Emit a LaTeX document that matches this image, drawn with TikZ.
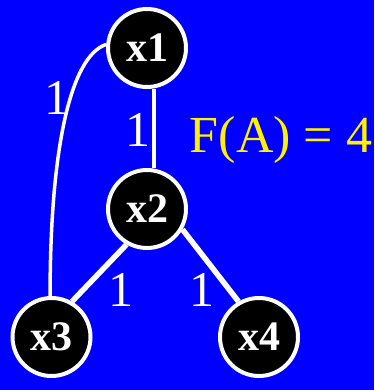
\documentclass[tikz,border=0pt]{standalone}
\usepackage{fontspec}
\setmainfont{Liberation Serif}

\begin{document}
\begin{tikzpicture}[x=1pt,y=-1pt,
    vert/.style={circle,fill=black,draw=white,line width=4pt,minimum size=78pt,inner sep=0pt,
      text=white,font=\fontsize{42}{44}\selectfont\bfseries},
    wt/.style={text=white,inner sep=0pt,font=\fontsize{50}{52}\selectfont},
    thinedge/.style={white,line width=3.5pt},
    thickedge/.style={white,line width=5.5pt}]
    \fill[blue] (0,0) rectangle (374,390);
    \useasboundingbox (0,0) rectangle (374,390);
    % vertices
    \node[vert] (x1) at (147,48) {x1};
    \node[vert] (x2) at (147,209) {x2};
    \node[vert] (x3) at (51.5,337) {x3};
    \node[vert] (x4) at (259,337) {x4};
    % edges
    \draw[thinedge] ([xshift=7pt]x1.south) -- ([xshift=7pt]x2.north);
    \draw[thinedge] (x1.175) .. controls +(-36,12) and +(0,-146) .. (x3.92);
    \draw[thickedge] (x2.240) -- (x3.60);
    \draw[thickedge] (x2.-30) -- (x4.120);
    % weights
    \node[wt] (w13) at (57,98) {1};
    \node[wt] (w12) at (138,130) {1};
    \node[wt] (w23) at (121,290) {1};
    \node[wt] (w24) at (202,290) {1};
    \node[text=yellow,inner sep=0pt,anchor=base,font=\fontsize{52}{54}\selectfont] (fa) at (281,152) {F(A) = 4};
\end{tikzpicture}
\end{document}
